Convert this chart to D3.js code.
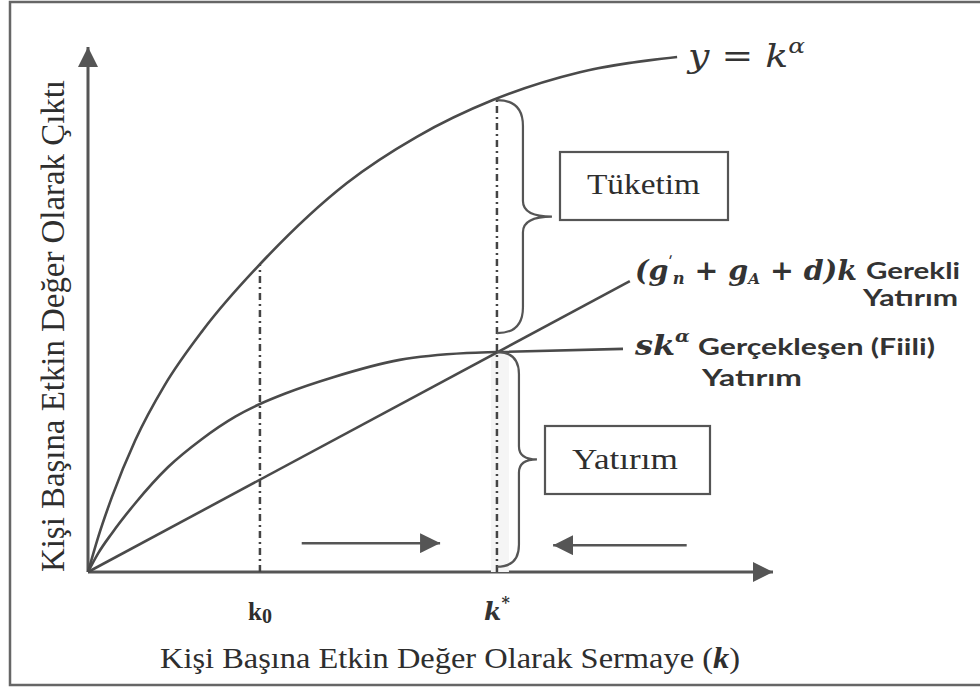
<!DOCTYPE html>
<html>
<head>
<meta charset="utf-8">
<script src="https://cdn.jsdelivr.net/npm/d3@7"></script>
<style>
	body { margin: 0; background: #fff; }
	svg { display: block; }
	.serif { font-family: 'Liberation Serif', 'Times New Roman', serif; fill: #2e2e2e; }
	.math { font-family: 'DejaVu Serif', serif; font-style: italic; fill: #333; }
	.sans { font-family: Lato, 'Open Sans', sans-serif; font-weight: bold; fill: #333; }
</style>
</head>
<body>
<div id="chart"></div>
<script>
// k and y both on a 0-100 scale
// y = k^alpha
const outputK = [0, 1.5, 3.5, 6.9, 11.2, 16.8, 26.1, 37.8, 48.0, 59.1, 71.8, 86.0];
const outputY = [0, 6.7, 14.3, 25.1, 35.6, 46.1, 60.0, 74.1, 82.9, 89.9, 95.2, 98.1];
// s k^alpha
const savingK = [0, 1.5, 3.5, 6.9, 11.7, 16.6, 21.5, 25.1, 28.8, 35.8, 45.5, 55.3, 59.7, 78.1];
const savingY = [0, 3.6, 7.4, 13.1, 20.0, 25.3, 29.6, 32.0, 34.0, 37.1, 40.4, 41.7, 41.9, 42.5];
// (g_n + g_A + d) k
const requiredK = [0, 79.1];
const requiredY = [0, 55.4];
// k0 and k*
const markK = [25.1, 59.7];
const markTop = [58.5, 89.9];
const markNames = ['k0', 'k*'];
// braces at k*
const braceTop = [89.9, 41.9];
const braceBottom = [45.5, 1.0];
const braceNames = ['Tüketim', 'Yatırım'];
// adjustment arrows
const arrowFrom = [31.2, 87.4];
const arrowTo = [51.4, 67.9];
const arrowY = [5.5, 5.1];

class SolowDiagram {
	constructor(_config) {
		this.config = {
			parentElement: _config.parentElement,
			width: _config.width || 980,
			height: _config.height || 691,
		};
		this.lineColor = '#4a4a4a';
		this.initVis();
	}

	initVis() {
		this.svg = d3
			.select(this.config.parentElement)
			.append('svg')
			.attr('width', this.config.width)
			.attr('height', this.config.height);

		this.x = d3.scaleLinear().domain([0, 100]).range([88, 773]);
		this.y = d3.scaleLinear().domain([0, 100]).range([572, 47]);

		const defs = this.svg.append('defs');
		defs
			.append('marker')
			.attr('id', 'head')
			.attr('viewBox', '0 0 20 20')
			.attr('refX', 20)
			.attr('refY', 10)
			.attr('markerWidth', 20)
			.attr('markerHeight', 20)
			.attr('markerUnits', 'userSpaceOnUse')
			.attr('orient', 'auto')
			.append('path')
			.attr('d', 'M0,0L20,10L0,20Z')
			.attr('fill', '#555');

		// page frame
		this.svg
			.append('rect')
			.attr('x', 10)
			.attr('y', 2)
			.attr('width', 980)
			.attr('height', 683)
			.attr('fill', 'none')
			.attr('stroke', '#666')
			.attr('stroke-width', 2.5);

		this.drawAxes();
		this.drawCurves();
		this.drawBraces();
		this.drawLabels();
	}

	drawAxes() {
		const [x0, x1] = this.x.range();
		const [y0, y1] = this.y.range();
		this.svg
			.append('line')
			.attr('x1', x0)
			.attr('y1', y0)
			.attr('x2', x1)
			.attr('y2', y0)
			.attr('stroke', '#555')
			.attr('stroke-width', 3)
			.attr('marker-end', 'url(#head)');
		this.svg
			.append('line')
			.attr('x1', x0)
			.attr('y1', y0)
			.attr('x2', x0)
			.attr('y2', y1)
			.attr('stroke', '#555')
			.attr('stroke-width', 3)
			.attr('marker-end', 'url(#head)');

		// motion arrows
		this.svg
			.selectAll('.move')
			.data(arrowFrom)
			.join('line')
			.attr('class', 'move')
			.attr('x1', (d) => this.x(d))
			.attr('x2', (d, i) => this.x(arrowTo[i]))
			.attr('y1', (d, i) => this.y(arrowY[i]))
			.attr('y2', (d, i) => this.y(arrowY[i]))
			.attr('stroke', '#555')
			.attr('stroke-width', 2.5)
			.attr('marker-end', 'url(#head)');
	}

	drawCurves() {
		// faint shading under the intersection
		this.svg
			.append('rect')
			.attr('x', this.x(markK[1]) - 6)
			.attr('y', this.y(braceTop[1]))
			.attr('width', 18)
			.attr('height', this.y(0) - this.y(braceTop[1]))
			.attr('fill', '#f5f5f5');

		this.svg
			.selectAll('.mark')
			.data(markK)
			.join('line')
			.attr('class', 'mark')
			.attr('x1', (d) => this.x(d))
			.attr('x2', (d) => this.x(d))
			.attr('y1', this.y(0))
			.attr('y2', (d, i) => this.y(markTop[i]))
			.attr('stroke', '#444')
			.attr('stroke-width', 2.5)
			.attr('stroke-dasharray', '7 4 2 4');

		const curves = [
			{ key: 'output', k: outputK, v: outputY },
			{ key: 'saving', k: savingK, v: savingY },
			{ key: 'required', k: requiredK, v: requiredY },
		];
		const line = d3
			.line()
			.x((d) => this.x(d[0]))
			.y((d) => this.y(d[1]))
			.curve(d3.curveMonotoneX);

		this.svg
			.selectAll('.curve')
			.data(curves)
			.join('path')
			.attr('class', 'curve')
			.attr('fill', 'none')
			.attr('stroke', this.lineColor)
			.attr('stroke-width', 2.6)
			.attr('d', (d) => line(d.k.map((k, i) => [k, d.v[i]])));
	}

	bracePath(xp, y0, y1, w, tip) {
		const ym = (y0 + y1) / 2;
		return (
			`M${xp},${y0}Q${xp + w},${y0} ${xp + w},${y0 + w}` +
			`L${xp + w},${ym - w * 0.6}Q${xp + w},${ym} ${xp + tip},${ym}` +
			`Q${xp + w},${ym} ${xp + w},${ym + w * 0.6}` +
			`L${xp + w},${y1 - w}Q${xp + w},${y1} ${xp},${y1}`
		);
	}

	drawBraces() {
		const xs = this.x(markK[1]);
		const sizes = [
			{ w: 26, tip: 55 },
			{ w: 22, tip: 40 },
		];
		this.svg
			.selectAll('.brace')
			.data(braceTop)
			.join('path')
			.attr('class', 'brace')
			.attr('fill', 'none')
			.attr('stroke', '#555')
			.attr('stroke-width', 2.2)
			.attr('d', (d, i) =>
				this.bracePath(xs, this.y(d), this.y(braceBottom[i]), sizes[i].w, sizes[i].tip)
			);

		const boxes = [
			{ x: 560, y: 152, w: 168, h: 68, tx: 587, ty: 194, len: 113 },
			{ x: 545, y: 426, w: 165, h: 68, tx: 572, ty: 469, len: 106 },
		];
		const g = this.svg
			.selectAll('.box')
			.data(braceNames)
			.join('g')
			.attr('class', 'box');
		g.append('rect')
			.attr('x', (d, i) => boxes[i].x)
			.attr('y', (d, i) => boxes[i].y)
			.attr('width', (d, i) => boxes[i].w)
			.attr('height', (d, i) => boxes[i].h)
			.attr('fill', 'none')
			.attr('stroke', '#555')
			.attr('stroke-width', 2.2);
		g.append('text')
			.attr('class', 'serif')
			.attr('x', (d, i) => boxes[i].tx)
			.attr('y', (d, i) => boxes[i].ty)
			.attr('font-size', 29)
			.attr('textLength', (d, i) => boxes[i].len)
			.attr('lengthAdjust', 'spacingAndGlyphs')
			.text((d) => d);
	}

	plainText(cls, x, y, size, len, str) {
		return this.svg
			.append('text')
			.attr('class', cls)
			.attr('x', x)
			.attr('y', y)
			.attr('font-size', size)
			.attr('textLength', len)
			.attr('lengthAdjust', 'spacingAndGlyphs')
			.text(str);
	}

	drawLabels() {
		// axis titles
		this.svg
			.append('text')
			.attr('class', 'serif')
			.attr('transform', 'translate(64,572) rotate(-90)')
			.attr('font-size', 33)
			.attr('textLength', 492)
			.attr('lengthAdjust', 'spacingAndGlyphs')
			.text('Kişi Başına Etkin Değer Olarak Çıktı');

		const xt = this.svg
			.append('text')
			.attr('class', 'serif')
			.attr('x', 160)
			.attr('y', 668)
			.attr('font-size', 30)
			.attr('textLength', 580)
			.attr('lengthAdjust', 'spacingAndGlyphs');
		xt.append('tspan').text('Kişi  Başına Etkin Değer Olarak Sermaye (');
		xt.append('tspan').attr('font-style', 'italic').attr('font-weight', 'bold').text('k');
		xt.append('tspan').text(')');

		// k0, k*
		const ticks = this.svg
			.selectAll('.tick')
			.data(markK)
			.join('text')
			.attr('class', (d, i) => (i === 0 ? 'tick serif' : 'tick math'))
			.attr('x', (d) => this.x(d))
			.attr('y', 620)
			.attr('text-anchor', 'middle')
			.attr('font-size', 25)
			.attr('font-weight', 'bold');
		ticks.append('tspan').text((d, i) => markNames[i][0]);
		ticks
			.append('tspan')
			.attr('font-size', (d, i) => (i === 0 ? 20 : 16))
			.attr('font-style', 'normal')
			.attr('dy', (d, i) => (i === 0 ? 3 : -12))
			.text((d, i) => markNames[i][1]);

		// curve names
		const yk = this.svg
			.append('text')
			.attr('class', 'math')
			.attr('x', 688)
			.attr('y', 67)
			.attr('font-size', 32)
			.attr('textLength', 117)
			.attr('lengthAdjust', 'spacingAndGlyphs');
		yk.append('tspan').text('y = k');
		yk.append('tspan').attr('font-size', 21).attr('dy', -14).text('α');

		const req = this.svg
			.append('text')
			.attr('class', 'math')
			.attr('x', 635)
			.attr('y', 280)
			.attr('font-size', 28)
			.attr('font-weight', 'bold')
			.attr('textLength', 222)
			.attr('lengthAdjust', 'spacingAndGlyphs');
		req.append('tspan').text('(g');
		req.append('tspan').attr('font-size', 14).attr('dy', -13).text('ʹ');
		req.append('tspan').attr('font-size', 16).attr('dy', 17).text('n');
		req.append('tspan').attr('dy', -4).text(' + g');
		req.append('tspan').attr('font-size', 15).attr('dy', 4).text('A');
		req.append('tspan').attr('dy', -4).text(' + d)k');

		this.plainText('sans', 866, 279, 22, 94, 'Gerekli');
		this.plainText('sans', 863, 306, 22, 95, 'Yatırım');

		const sav = this.svg
			.append('text')
			.attr('class', 'math')
			.attr('x', 635)
			.attr('y', 355)
			.attr('font-size', 28)
			.attr('font-weight', 'bold')
			.attr('textLength', 55)
			.attr('lengthAdjust', 'spacingAndGlyphs');
		sav.append('tspan').text('sk');
		sav.append('tspan').attr('font-size', 17).attr('dy', -13).text('α');

		this.plainText('sans', 698, 355, 23, 237, 'Gerçekleşen (Fiili)');
		this.plainText('sans', 702, 386, 23, 100, 'Yatırım');
	}
}

const diagram = new SolowDiagram({ parentElement: '#chart' });
</script>
</body>
</html>
